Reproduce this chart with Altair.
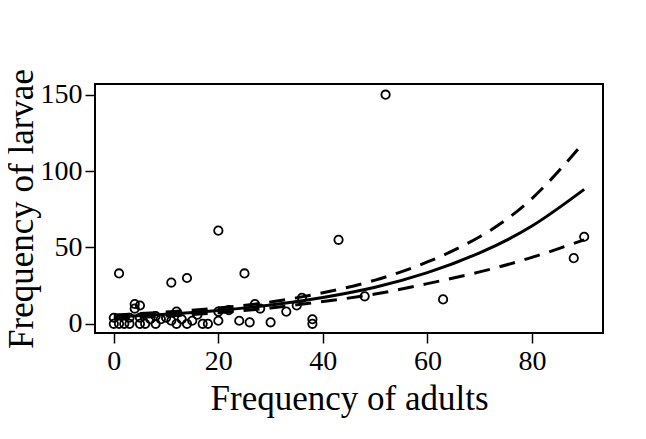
import altair as alt
import pandas as pd

# Observed points (adults, larvae)
adults = [0, 0, 1, 1, 2, 3, 3, 4, 4, 5, 5, 5, 6, 7, 8, 8, 9, 10, 11, 11, 12, 12, 13, 14, 14,
          15, 16, 17, 18, 20, 20, 20, 22, 24, 25, 26, 27, 28, 30, 33, 35, 36, 38, 38, 43, 48,
          52, 63, 88, 90]
larvae = [0, 4, 0, 33, 0, 0, 4, 13, 10, 12, 0, 4, 0, 3, 0, 5, 3, 4, 27, 2, 8, 0, 3, 30, 0,
          2, 6, 0, 0, 61, 2, 8, 9, 2, 33, 1, 13, 10, 1, 8, 12, 17, 3, 0, 55, 18,
          150, 16, 43, 57]

# Fitted curve and confidence limits
curve_x = [0, 10, 20, 30, 40, 50, 60, 70, 80, 90]
fit_y = [4.5, 6.3, 8.8, 12.3, 17.3, 24.0, 33.5, 46.5, 64.0, 88.0]
upper_y = [5.8, 7.7, 10.3, 14.3, 20.3, 28.6, 40.5, 57.0, 82.0, 119.0]
lower_y = [3.4, 5.1, 7.3, 10.4, 14.6, 19.5, 26.3, 34.0, 43.5, 55.0]

pts = pd.DataFrame({"adults": adults, "larvae": larvae})
curves = pd.DataFrame({"x": curve_x, "fit": fit_y, "upper": upper_y, "lower": lower_y})

FONT = "Liberation Serif"
xscale = alt.Scale(domain=[-3.6, 93.6], nice=False, zero=False)
yscale = alt.Scale(domain=[-6, 157], nice=False, zero=False)

xaxis = alt.Axis(values=[0, 20, 40, 60, 80], title="Frequency of adults", grid=False,
                 domain=False, tickSize=10, tickWidth=1.5, tickColor="black",
                 labelFont=FONT, labelFontSize=28, labelColor="black", labelPadding=4,
                 titleFont=FONT, titleFontSize=35, titleFontWeight="normal",
                 titleColor="black", titlePadding=6)
yaxis = alt.Axis(values=[0, 50, 100, 150], title="Frequency of larvae", grid=False,
                 domain=False, tickSize=10, tickWidth=1.5, tickColor="black",
                 labelFont=FONT, labelFontSize=28, labelColor="black", labelPadding=3,
                 titleFont=FONT, titleFontSize=35, titleFontWeight="normal",
                 titleColor="black", titlePadding=1)

points = alt.Chart(pts).mark_point(shape="circle", filled=False, size=70,
                                   strokeWidth=1.8, color="black", opacity=1).encode(
    x=alt.X("adults:Q", scale=xscale, axis=xaxis),
    y=alt.Y("larvae:Q", scale=yscale, axis=yaxis),
)

base = alt.Chart(curves)
fit_line = base.mark_line(color="black", strokeWidth=3, interpolate="natural").encode(
    x=alt.X("x:Q", scale=xscale), y=alt.Y("fit:Q", scale=yscale))
up_line = base.mark_line(color="black", strokeWidth=3, strokeDash=[16, 10],
                         interpolate="natural").encode(
    x=alt.X("x:Q", scale=xscale), y=alt.Y("upper:Q", scale=yscale))
lo_line = base.mark_line(color="black", strokeWidth=3, strokeDash=[16, 10],
                         interpolate="natural").encode(
    x=alt.X("x:Q", scale=xscale), y=alt.Y("lower:Q", scale=yscale))

chart = alt.layer(points, fit_line, up_line, lo_line).properties(
    width=508, height=249,
    autosize=alt.AutoSizeParams(type="none"),
    padding={"left": 87, "top": 76, "right": 35, "bottom": 90},
    background="white",
).configure_view(stroke="black", strokeWidth=2)

chart.save("out.html", embed_options={"renderer": "svg", "actions": False})
